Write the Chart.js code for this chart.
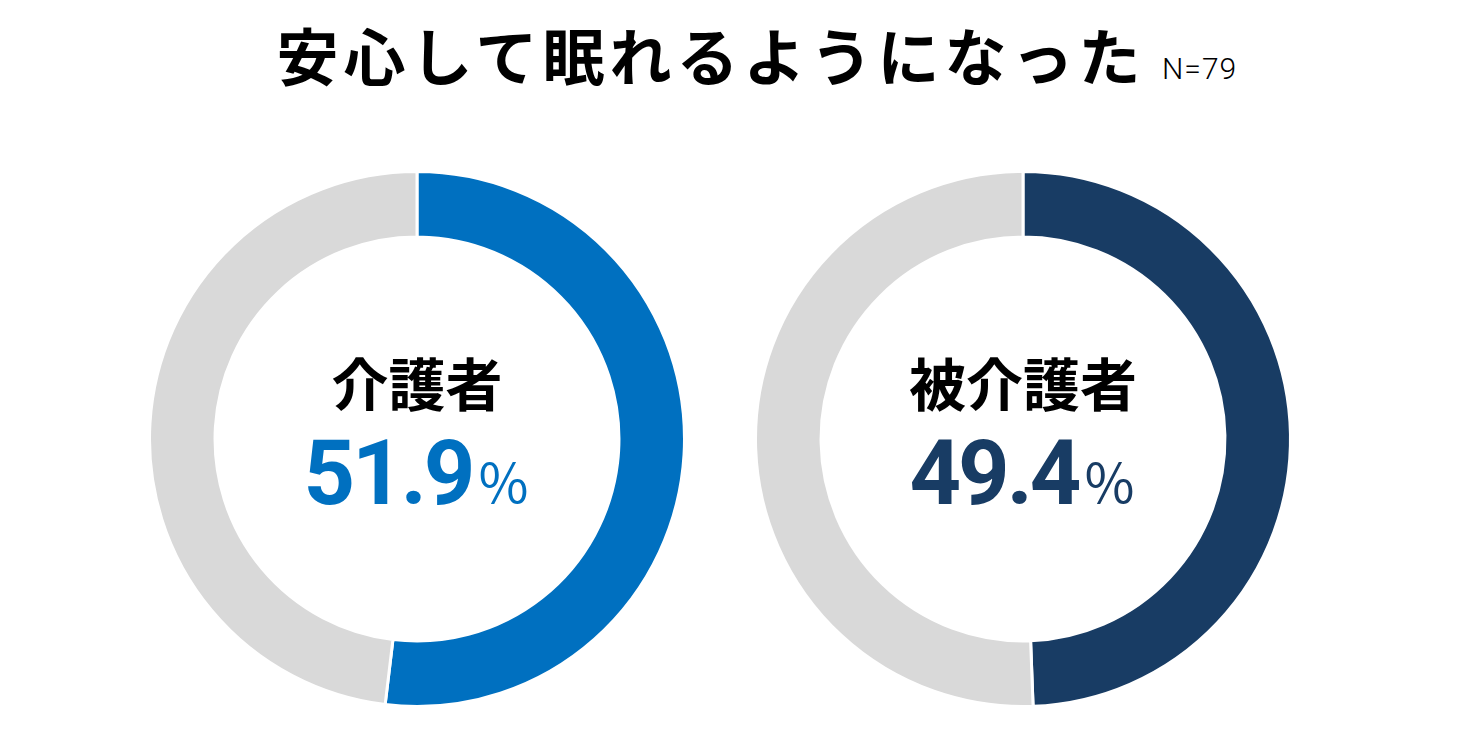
<!DOCTYPE html>
<html>
<head>
<meta charset="utf-8">
<script src="https://cdn.jsdelivr.net/npm/chart.js@4"></script>
<style>
  body { margin: 0; background: #fff; width: 1461px; height: 730px; position: relative; overflow: hidden; font-family: "Noto Sans CJK JP", sans-serif; }
  .title { position: absolute; left: 0; width: 1422px; top: 14px; text-align: center; font-size: 62px; font-weight: 700; letter-spacing: 5px; line-height: 80px; color: #000; }
  .n { position: absolute; left: 1162px; top: 50px; font-family: Roboto, sans-serif; font-weight: 300; font-size: 30px; line-height: 38px; letter-spacing: 1px; color: #000; }
  .chartbox { position: absolute; width: 540px; height: 540px; top: 169px; }
  .center { position: absolute; width: 540px; left: 0; text-align: center; }
  .label { top: 172px; font-size: 57px; font-weight: 700; line-height: 80px; color: #000; }
  .value { top: 250px; font-family: Roboto, sans-serif; font-weight: 700; font-size: 90px; line-height: 110px; letter-spacing: -3px; }
  .value span { font-family: "Noto Sans CJK JP", sans-serif; font-weight: 400; font-size: 54px; letter-spacing: 0; margin-left: 4px; }
</style>
</head>
<body>
<div class="title">安心して眠れるようになった</div>
<div class="n">N=79</div>

<div class="chartbox" style="left:147px"><canvas id="c0" width="540" height="540"></canvas>
  <div class="center label">介護者</div>
  <div class="center value" style="color:#0070C0">51.9<span>％</span></div>
</div>
<div class="chartbox" style="left:753px"><canvas id="c1" width="540" height="540"></canvas>
  <div class="center label">被介護者</div>
  <div class="center value" style="color:#183C64">49.4<span>％</span></div>
</div>

<script>
const groups = ['介護者', '被介護者'];
const yesValues = [51.9, 49.4];
const otherValues = [48.1, 50.6];
const colors = ['#0070C0', '#183C64'];
const grey = '#D9D9D9';

groups.forEach((name, i) => {
    new Chart(document.getElementById('c' + i), {
        type: 'doughnut',
        data: {
            labels: ['安心して眠れるようになった', 'その他'],
            datasets: [{
                label: name,
                data: [yesValues[i], otherValues[i]],
                backgroundColor: [colors[i], grey],
                borderColor: '#ffffff',
                borderWidth: 3
            }]
        },
        options: {
            responsive: false,
            animation: false,
            cutout: '75.5%',
            layout: { padding: 1 },
            plugins: {
                legend: { display: false },
                tooltip: { enabled: false }
            }
        }
    });
});
</script>
</body>
</html>
